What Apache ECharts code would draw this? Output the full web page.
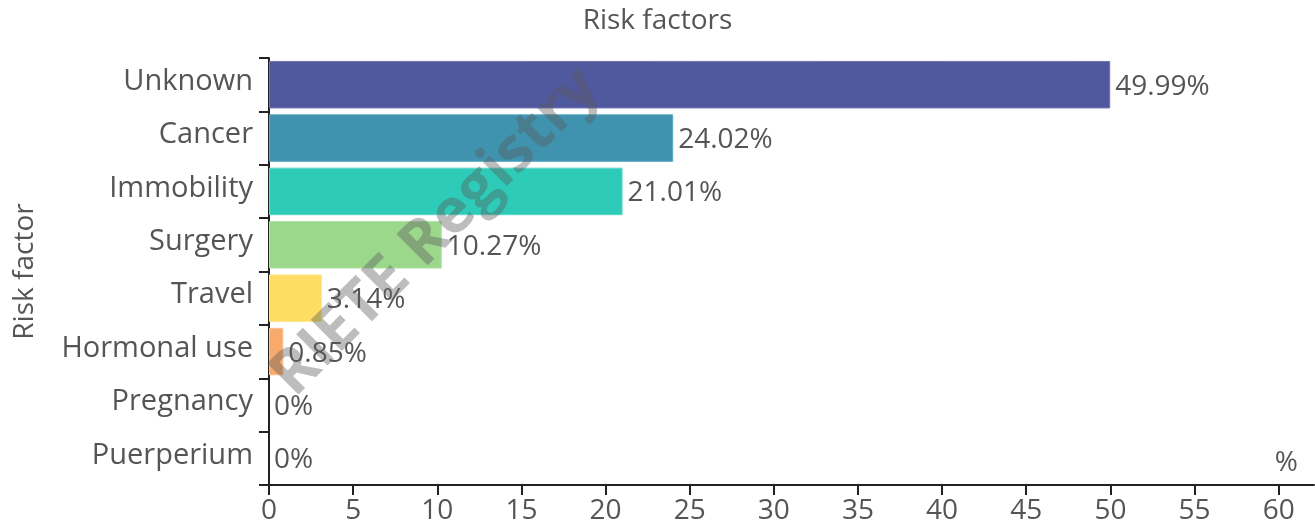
<!DOCTYPE html>
<html>
<head>
<meta charset="utf-8">
<script src="https://cdn.jsdelivr.net/npm/echarts@6/dist/echarts.min.js"></script>
<style>
  html, body { margin: 0; padding: 0; background: #fff; }
  #chart { width: 1315px; height: 528px; }
</style>
</head>
<body>
<div id="chart"></div>
<script>
// Risk factor categories, top to bottom
const categories = ['Unknown', 'Cancer', 'Immobility', 'Surgery', 'Travel', 'Hormonal use', 'Pregnancy', 'Puerperium'];
// Share of patients with each risk factor (%)
const values = [49.99, 24.02, 21.01, 10.27, 3.14, 0.85, 0, 0];
// One fill per bar
const barColors = ['#50589e', '#3f93ae', '#2ecbb8', '#9bd88c', '#fddd63', '#f8a96c', '#cccccc', '#cccccc'];
const barBorders = ['#6c74b4', '#5aa8c0', '#5ad8c8', '#b0e2a4', '#fde588', '#fbbf92', '#dddddd', '#dddddd'];

const FONT = '"Open Sans", "Noto Sans", sans-serif';
const TEXT = '#555555';

const chart = echarts.init(document.getElementById('chart'), null, { renderer: 'canvas' });

chart.setOption({
  animation: false,
  textStyle: { fontFamily: FONT },
  title: {
    text: 'Risk factors',
    left: 'center',
    top: 2,
    textStyle: { fontFamily: FONT, fontSize: 28, fontWeight: 'normal', color: TEXT }
  },
  grid: { left: 269, right: 1, top: 58, bottom: 43, containLabel: false },
  xAxis: {
    type: 'value',
    min: 0,
    max: 62.1,
    interval: 5,
    name: '%',
    nameLocation: 'end',
    nameGap: -16,
    nameTextStyle: { fontFamily: FONT, fontSize: 28, color: TEXT, align: 'right', verticalAlign: 'bottom', padding: [0, 0, 8, 0] },
    axisLine: { show: true, lineStyle: { color: '#222', width: 2 } },
    axisTick: { show: true, length: 10, lineStyle: { color: '#222', width: 2 } },
    axisLabel: { fontFamily: FONT, fontSize: 28, color: TEXT, margin: 12, showMaxLabel: false },
    splitLine: { show: false }
  },
  yAxis: {
    type: 'category',
    data: categories,
    inverse: true,
    name: 'Risk factor',
    nameLocation: 'middle',
    nameRotate: 90,
    nameGap: 230,
    nameTextStyle: { fontFamily: FONT, fontSize: 28, color: TEXT },
    axisLine: { show: true, lineStyle: { color: '#222', width: 2 } },
    axisTick: { show: true, length: 10, lineStyle: { color: '#222', width: 2 } },
    axisLabel: {
      margin: 16,
      formatter: v => '{c|' + v + '}',
      rich: { c: { fontFamily: FONT, fontSize: 29, color: TEXT, padding: [0, 0, 6, 0] } }
    },
    splitLine: { show: false }
  },
  series: [{
    type: 'bar',
    data: values.map((v, i) => ({
      value: v,
      itemStyle: v > 0
        ? { color: barColors[i], borderColor: barBorders[i], borderWidth: 1 }
        : { color: 'transparent', borderWidth: 0 }
    })),
    barCategoryGap: '11%',
    label: {
      show: true,
      position: 'right',
      distance: 5,
      offset: [0, 2],
      fontFamily: FONT,
      fontSize: 28,
      color: TEXT,
      formatter: p => p.value + '%'
    }
  }],
  graphic: [{
    type: 'text',
    x: 436,
    y: 232,
    rotation: Math.PI / 4,
    z: 100,
    silent: true,
    style: {
      text: 'RIETE Registry',
      font: 'bold 62px ' + FONT,
      fill: 'rgba(90, 90, 90, 0.4)',
      textAlign: 'center',
      textVerticalAlign: 'middle'
    }
  }]
});
</script>
</body>
</html>
